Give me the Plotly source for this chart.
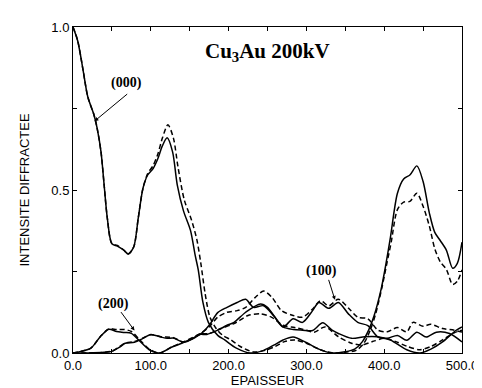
import plotly.graph_objects as go

# (000) beam, solid and dashed
X0S = [0, 6, 13, 19, 27, 31, 36, 40, 44, 50, 57, 65, 71, 78, 84, 90, 96, 103, 109, 115,
       121, 128, 134, 142, 151, 157, 161, 167, 174, 186, 195, 210, 228, 245, 258, 270,
       283, 299, 316, 333, 350, 362, 372, 380, 387, 396, 402, 408, 417, 425, 433, 442,
       450, 458, 465, 472, 480, 488, 494, 500]
Y0S = [1.0, 0.958, 0.867, 0.786, 0.73, 0.69, 0.617, 0.516, 0.416, 0.335, 0.328, 0.316,
       0.304, 0.325, 0.416, 0.506, 0.546, 0.566, 0.596, 0.636, 0.66, 0.617, 0.516, 0.436,
       0.376, 0.30, 0.255, 0.155, 0.094, 0.054, 0.04, 0.015, 0.0, 0.008, 0.024, 0.04,
       0.049, 0.033, 0.012, 0.0, 0.004, 0.012, 0.035, 0.07, 0.114, 0.195, 0.27, 0.355,
       0.49, 0.534, 0.546, 0.574, 0.526, 0.43, 0.37, 0.345, 0.315, 0.26, 0.275, 0.34]

X0D = [0, 6, 13, 19, 27, 31, 36, 40, 44, 50, 57, 65, 71, 78, 84, 90, 96, 103, 109, 115,
       122, 129, 135, 143, 152, 159, 164, 170, 176, 184, 192, 203, 215, 232, 247, 260,
       272, 285, 300, 318, 335, 352, 364, 374, 382, 389, 397, 403, 409, 417, 425, 433,
       442, 450, 458, 465, 472, 480, 488, 494, 500]
Y0D = [1.0, 0.958, 0.867, 0.786, 0.73, 0.69, 0.617, 0.516, 0.416, 0.335, 0.33, 0.316,
       0.304, 0.325, 0.416, 0.506, 0.55, 0.575, 0.61, 0.66, 0.70, 0.66, 0.57, 0.47, 0.41,
       0.35, 0.28, 0.18, 0.11, 0.075, 0.055, 0.04, 0.02, 0.003, 0.008, 0.02, 0.035, 0.04,
       0.03, 0.01, 0.0, 0.003, 0.008, 0.03, 0.07, 0.12, 0.2, 0.27, 0.34, 0.44, 0.463,
       0.465, 0.49, 0.45, 0.39, 0.32, 0.28, 0.256, 0.21, 0.22, 0.255]

# first low beam, solid and dashed
X1S = [0, 10, 23, 35, 46, 56, 66, 75, 86, 98, 111, 128, 144, 165, 175, 186, 198, 211,
       222, 232, 245, 258, 270, 283, 295, 308, 316, 329, 341, 354, 366, 379, 392, 404,
       417, 429, 442, 454, 467, 484, 500]
Y1S = [0.0, 0.005, 0.015, 0.05, 0.073, 0.066, 0.063, 0.06, 0.036, 0.01, 0.0, 0.019,
       0.034, 0.06, 0.085, 0.124, 0.14, 0.155, 0.165, 0.14, 0.145, 0.114, 0.08, 0.105,
       0.094, 0.13, 0.155, 0.137, 0.155, 0.12, 0.094, 0.084, 0.049, 0.045, 0.054, 0.039,
       0.064, 0.049, 0.064, 0.06, 0.034]

X1D = [0, 10, 23, 35, 46, 56, 66, 75, 86, 98, 111, 128, 144, 165, 175, 186, 198, 211,
       222, 234, 245, 256, 268, 283, 295, 308, 318, 329, 341, 354, 366, 379, 392, 404,
       417, 429, 437, 450, 460, 475, 490, 500]
Y1D = [0.0, 0.005, 0.015, 0.05, 0.074, 0.072, 0.072, 0.066, 0.04, 0.012, 0.0, 0.02,
       0.036, 0.062, 0.08, 0.11, 0.125, 0.13, 0.14, 0.17, 0.19, 0.17, 0.13, 0.115, 0.11,
       0.135, 0.16, 0.145, 0.165, 0.138, 0.11, 0.105, 0.07, 0.065, 0.078, 0.065, 0.094,
       0.082, 0.088, 0.075, 0.07, 0.064]

# second low beam, solid and dashed
X2S = [0, 20, 40, 50, 60, 67, 79, 90, 100, 113, 121, 129, 142, 155, 163, 172, 186, 198,
       207, 222, 241, 250, 258, 270, 283, 295, 308, 321, 333, 341, 358, 375, 391, 408,
       429, 446, 460, 475, 492, 500]
Y2S = [0.0, 0.0, 0.002, 0.005, 0.018, 0.03, 0.033, 0.045, 0.057, 0.049, 0.045, 0.046,
       0.033, 0.045, 0.057, 0.057, 0.07, 0.085, 0.094, 0.125, 0.15, 0.14, 0.115, 0.08,
       0.072, 0.07, 0.069, 0.093, 0.07, 0.06, 0.045, 0.05, 0.05, 0.04, 0.01, 0.0, 0.012,
       0.034, 0.069, 0.08]

X2D = [0, 20, 40, 50, 60, 67, 79, 90, 100, 113, 129, 142, 155, 163, 175, 190, 207, 225,
       241, 255, 270, 285, 300, 310, 324, 341, 358, 372, 385, 400, 415, 430, 446, 460,
       475, 490, 500]
Y2D = [0.0, 0.0, 0.002, 0.006, 0.02, 0.03, 0.035, 0.046, 0.056, 0.05, 0.047, 0.034,
       0.046, 0.058, 0.06, 0.075, 0.09, 0.115, 0.12, 0.11, 0.085, 0.078, 0.07, 0.064,
       0.08, 0.05, 0.03, 0.025, 0.035, 0.045, 0.035, 0.02, 0.01, 0.02, 0.04, 0.062, 0.07]

SERIES = [
    (X0S, Y0S, "solid"), (X0D, Y0D, "5px,3px"),
    (X1S, Y1S, "solid"), (X1D, Y1D, "5px,3px"),
    (X2S, Y2S, "solid"), (X2D, Y2D, "5px,3px"),
]

fig = go.Figure()
for xs, ys, dash in SERIES:
    fig.add_trace(go.Scatter(
        x=xs, y=ys, mode="lines",
        line=dict(color="black", width=1.5, dash=dash, shape="spline", smoothing=0.8),
        showlegend=False, hoverinfo="skip",
    ))

SERIF = "Liberation Serif, Times New Roman, serif"
labels = [
    ("<b>Cu<sub>3</sub>Au 200kV</b>", 250, 0.922, 21),
    ("<b>(000)</b>", 69, 0.828, 14),
    ("<b>(200)</b>", 51.5, 0.15, 14),
    ("<b>(100)</b>", 319, 0.253, 14),
]
for text, x, y, size in labels:
    fig.add_annotation(x=x, y=y, text=text, showarrow=False,
                       font=dict(family=SERIF, size=size, color="black"))

# arrows: (tip x, tip y, tail x, tail y)
arrows = [(27.6, 0.711, 71.6, 0.798), (79, 0.069, 60.3, 0.13), (336.7, 0.163, 328, 0.229)]
for x, y, ax, ay in arrows:
    fig.add_annotation(x=x, y=y, ax=ax, ay=ay, axref="x", ayref="y", text="",
                       showarrow=True, arrowhead=2, arrowsize=0.8, arrowwidth=1,
                       arrowcolor="black")

axis_common = dict(
    showline=True, linecolor="black", linewidth=1, mirror="ticks",
    ticks="inside", ticklen=4, tickcolor="black", showgrid=False, zeroline=False,
    tickfont=dict(family="Liberation Sans, Arial, sans-serif", size=13, color="black"),
)
fig.update_xaxes(range=[0, 500], dtick=100, tickformat=".1f",
                 minor=dict(dtick=50, ticks="inside", ticklen=4, tickcolor="black"),
                 title=dict(text="EPAISSEUR", standoff=2,
                            font=dict(family="Liberation Sans, Arial, sans-serif", size=13)),
                 **axis_common)
fig.update_yaxes(range=[0, 1.0], dtick=0.5, tickformat=".1f",
                 minor=dict(dtick=0.25, ticks="inside", ticklen=4, tickcolor="black"),
                 title=dict(text="INTENSITE DIFFRACTEE", standoff=18,
                            font=dict(family="Liberation Sans, Arial, sans-serif", size=13)),
                 **axis_common)

fig.update_layout(
    width=482, height=388,
    margin=dict(l=65, r=19, t=16, b=40),
    paper_bgcolor="white", plot_bgcolor="white",
    font=dict(family="Liberation Sans, Arial, sans-serif", color="black"),
)

fig.write_html("out.html")
